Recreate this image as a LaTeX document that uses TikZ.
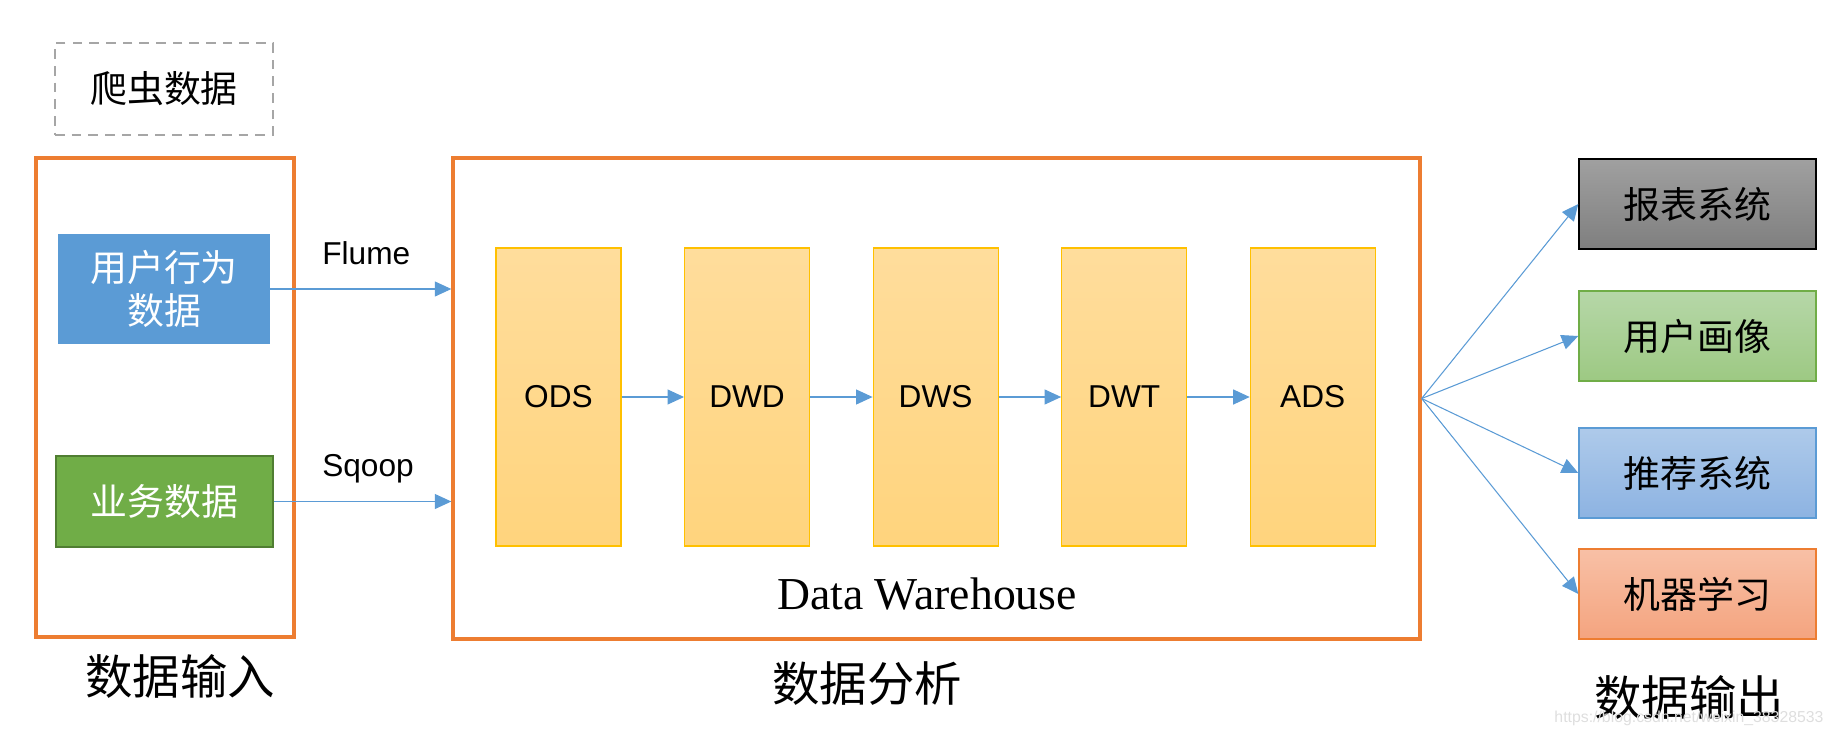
\documentclass[tikz,border=0pt]{standalone}
\usepackage{fontspec}
\setmainfont{Liberation Serif}
\setsansfont{Liberation Sans}
\newfontfamily\cjk{Noto Sans CJK SC}
\usepackage{tikz}
\usetikzlibrary{arrows.meta,positioning,calc}
\definecolor{frameorange}{HTML}{ED7D31}
\definecolor{userblue}{HTML}{5B9BD5}
\definecolor{bizgreen}{HTML}{70AD47}
\definecolor{bizdark}{HTML}{507E32}
\definecolor{layertop}{HTML}{FFDD9C}
\definecolor{layerbot}{HTML}{FFD47D}
\definecolor{layerline}{HTML}{FFC000}
\definecolor{dashgrey}{HTML}{A6A6A6}
\definecolor{reptop}{HTML}{A0A0A0}
\definecolor{repbot}{HTML}{7F7F7F}
\definecolor{portop}{HTML}{B6D7A8}
\definecolor{porbot}{HTML}{9DC983}
\definecolor{rectop}{HTML}{AECAEA}
\definecolor{recbot}{HTML}{8DB3E2}
\definecolor{mltop}{HTML}{F8C0A6}
\definecolor{mlbot}{HTML}{F4A47F}
\tikzset{
    frame/.style={draw=frameorange,line width=1.9pt,inner sep=0pt},
    srcbox/.style={minimum width=4.24cm,minimum height=2.2cm,inner sep=2pt,
      text=white,align=center,font=\cjk\fontsize{21}{27}\selectfont},
    layer/.style={draw=layerline,top color=layertop,bottom color=layerbot,
      line width=0.6pt,minimum width=2.5cm,minimum height=5.96cm,
      font=\sffamily\fontsize{18}{20}\selectfont},
    outbox/.style={minimum width=4.74cm,minimum height=1.8cm,line width=0.8pt,
      font=\cjk\fontsize{21}{24}\selectfont},
    flowarrow/.style={-{Triangle[length=3.3mm,width=3mm]},draw=userblue,
      line width=0.6pt},
    tool/.style={font=\sffamily\fontsize{18}{20}\selectfont},
    caption/.style={font=\cjk\fontsize{27}{30}\selectfont}
}

\begin{document}
\begin{tikzpicture}
  \useasboundingbox (0,0) rectangle (36.68,-14.78);
  % data input
  \node[draw=dashgrey,dash pattern=on 5.5pt off 4pt,line width=1.2pt,minimum width=4.36cm,
    minimum height=1.84cm,font=\cjk\fontsize{21}{24}\selectfont] (crawl) at (3.28,-1.78) {爬虫数据};
  \node[frame,minimum width=5.16cm,minimum height=9.58cm] (inbox) at (3.30,-7.95) {};
  \node[srcbox,fill=userblue] (user) at (3.28,-5.78) {用户行为\\[-3pt]数据};
  \node[srcbox,fill=bizgreen,draw=bizdark,line width=1.2pt,minimum width=4.34cm,
    minimum height=1.82cm] (biz) at (3.29,-10.03) {业务数据};
  \node[caption] (incap) at (3.60,-13.52) {数据输入};
  % warehouse
  \node[frame,minimum width=19.34cm,minimum height=9.62cm] (wh) at (18.73,-7.97) {};
  \node[layer] (ods) at (11.17,-7.94) {ODS};
  \node[layer,right=1.25cm of ods] (dwd) {DWD};
  \node[layer,right=1.25cm of dwd] (dws) {DWS};
  \node[layer,right=1.25cm of dws] (dwt) {DWT};
  \node[layer,right=1.25cm of dwt] (ads) {ADS};
  \foreach \a/\b in {ods/dwd,dwd/dws,dws/dwt,dwt/ads}
    \draw[flowarrow] (\a) -- (\b);
  \node[font=\fontsize{26}{30}\selectfont] (whname) at (18.54,-11.88) {Data Warehouse};
  \node[caption] (whcap) at (17.34,-13.68) {数据分析};
  \draw[flowarrow] (user.east) -- node[tool,pos=0.53,anchor=base,yshift=4.9mm] (flume) {Flume}
    (user.east -| wh.west);
  \draw[flowarrow] (biz.east) -- node[tool,pos=0.53,anchor=base,yshift=5mm] (sqoop) {Sqoop}
    (biz.east -| wh.west);
  % data output
  \node[outbox,draw=black,top color=reptop,bottom color=repbot] (rep) at (33.95,-4.08) {报表系统};
  \node[outbox,draw=bizgreen,top color=portop,bottom color=porbot] (por) at (33.95,-6.72) {用户画像};
  \node[outbox,draw=userblue,top color=rectop,bottom color=recbot] (rec) at (33.95,-9.46) {推荐系统};
  \node[outbox,draw=frameorange,top color=mltop,bottom color=mlbot] (ml) at (33.95,-11.88) {机器学习};
  \foreach \t in {rep,por,rec,ml}
    \draw[flowarrow] (wh.east) -- (\t.west);
  \node[caption] (outcap) at (33.78,-13.94) {数据输出};
  \node[text=black!13,font=\sffamily\fontsize{9}{10}\selectfont] (mark) at (33.78,-14.36)
    {https://blog.csdn.net/weixin\_38328533};
\end{tikzpicture}
\end{document}
